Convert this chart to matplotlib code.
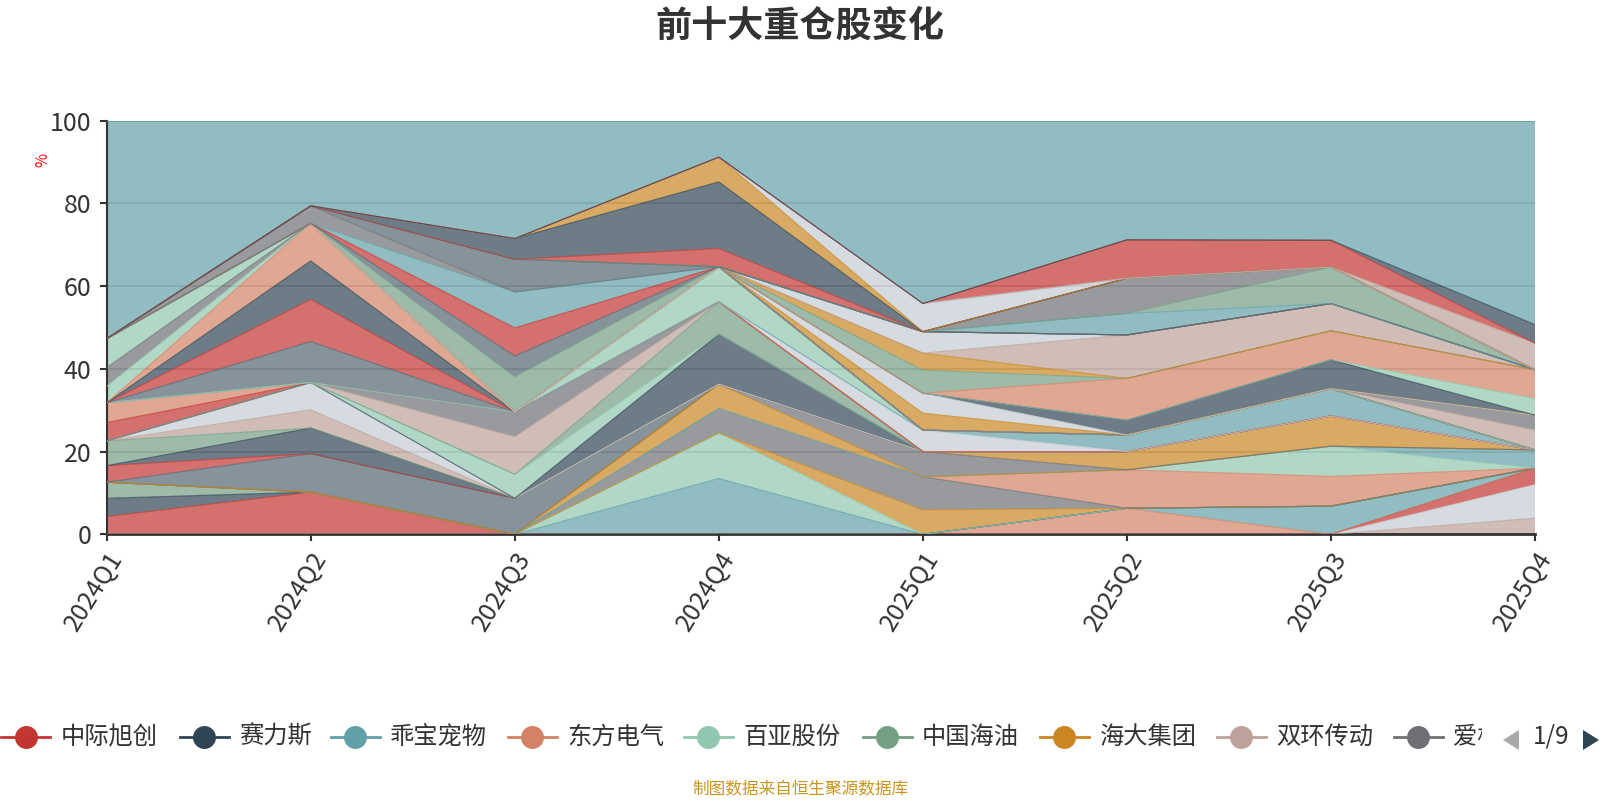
import matplotlib
matplotlib.use('Agg')
import matplotlib.pyplot as plt
import numpy as np
from matplotlib.lines import Line2D
from matplotlib.patches import Polygon
from matplotlib.transforms import Bbox, TransformedBbox

plt.rcParams['font.family'] = ['Noto Sans CJK SC', 'DejaVu Sans']

# 季度
quarters = ['2024Q1', '2024Q2', '2024Q3', '2024Q4',
            '2025Q1', '2025Q2', '2025Q3', '2025Q4']

# 图例第一页
legend_names = ['中际旭创', '赛力斯', '乖宝宠物', '东方电气', '百亚股份',
                '中国海油', '海大集团', '双环传动', '爱柯迪']

# echarts 默认配色
palette = {'red': '#c23531', 'dark': '#2f4554', 'teal': '#61a0a8',
           'orange': '#d48265', 'lgreen': '#91c7ae', 'green': '#749f83',
           'gold': '#ca8622', 'tan': '#bda29a', 'gray': '#6e7074',
           'gblue': '#546570', 'lgray': '#c4ccd3'}
legend_colors = ['red', 'dark', 'teal', 'orange', 'lgreen',
                 'green', 'gold', 'tan', 'gray']

# 各持仓占比(%), 按堆叠顺序从下到上
holdings = [
    [0, 0, 0, 0, 0, 0, 0, 3.9],
    [0, 0, 0, 0, 0, 0, 0, 8.1],
    [0, 0, 0, 0, 0, 0, 0, 4.0],
    [0, 0, 0, 0, 0, 6.3, 0, 0],
    [0, 0, 0, 0, 0, 0, 6.8, 0],
    [4.3, 10.2, 0, 0, 0, 0, 0, 0],
    [4.4, 0, 0, 0, 0, 0, 0, 0],
    [3.9, 0, 0, 0, 0, 0, 0, 0],
    [0, 0, 0, 13.5, 0, 0, 0, 0],
    [0, 0, 0, 11.0, 0, 0, 0, 0],
    [0, 0, 0, 0, 5.9, 0, 0, 0],
    [0, 0, 0, 5.9, 8.0, 0, 0, 0],
    [0, 0, 0, 0, 0, 9.3, 7.2, 0],
    [0, 0, 0, 0, 0, 0, 7.3, 0],
    [0, 0, 0, 0, 0, 0, 0, 4.4],
    [0, 0, 0, 5.9, 0, 0, 0, 0],
    [0, 0, 0, 0, 6.1, 0, 0, 0],
    [0, 0, 0, 0, 0, 4.4, 7.3, 0],
    [0, 9.3, 8.7, 0, 0, 0, 0, 0],
    [4.0, 0, 0, 0, 0, 0, 0, 0],
    [0, 6.2, 0, 0, 0, 0, 0, 0],
    [6.0, 0, 0, 0, 0, 0, 0, 0],
    [0, 4.4, 0, 0, 0, 0, 0, 0],
    [0, 6.6, 0, 0, 0, 0, 0, 0],
    [0, 0, 0, 12.1, 0, 0, 0, 0],
    [0, 0, 5.8, 0, 0, 0, 0, 0],
    [0, 0, 0, 7.8, 0, 0, 0, 0],
    [0, 0, 9.1, 0, 0, 0, 0, 0],
    [0, 0, 6.0, 0, 0, 0, 0, 0],
    [4.4, 0, 0, 0, 0, 0, 0, 0],
    [4.8, 0, 0, 0, 0, 0, 0, 0],
    [0, 0, 0, 0, 5.2, 0, 0, 0],
    [0, 0, 0, 0, 0, 4.0, 6.6, 0],
    [0, 0, 0, 8.5, 0, 0, 0, 0],
    [0, 9.9, 0, 0, 0, 0, 0, 0],
    [0, 10.2, 0, 0, 0, 0, 0, 0],
    [0, 9.3, 0, 0, 0, 0, 0, 0],
    [0, 9.1, 0, 0, 0, 0, 0, 0],
    [4.0, 0, 0, 0, 0, 0, 0, 0],
    [4.5, 0, 0, 0, 0, 0, 0, 0],
    [7.0, 0, 0, 0, 0, 0, 0, 0],
    [0, 0, 0, 0, 0, 0, 0, 4.8],
    [0, 0, 0, 0, 0, 0, 0, 3.6],
    [0, 0, 0, 0, 4.1, 0, 0, 0],
    [0, 0, 0, 0, 4.8, 0, 0, 0],
    [0, 0, 0, 0, 0, 3.6, 7.0, 0],
    [0, 0, 0, 0, 0, 0, 0, 4.0],
    [0, 0, 0, 0, 0, 10.1, 7.0, 7.0],
    [0, 0, 0, 0, 5.6, 0, 0, 0],
    [0, 0, 0, 0, 4.1, 0, 0, 0],
    [0, 0, 0, 0, 0, 10.5, 6.6, 0],
    [0, 0, 0, 0, 5.2, 0, 0, 0],
    [0, 0, 8.5, 0, 0, 0, 0, 0],
    [0, 0, 5.0, 0, 0, 0, 0, 0],
    [0, 0, 6.8, 0, 0, 0, 0, 0],
    [0, 0, 8.7, 0, 0, 0, 0, 0],
    [0, 4.2, 0, 0, 0, 0, 0, 0],
    [0, 0, 7.9, 0, 0, 0, 0, 0],
    [0, 0, 0, 0, 0, 5.2, 0, 0],
    [0, 0, 0, 0, 0, 0, 8.8, 0],
    [0, 0, 0, 0, 0, 8.5, 0, 0],
    [0, 0, 0, 4.4, 0, 0, 0, 0],
    [0, 0, 5.0, 16.1, 0, 0, 0, 0],
    [0, 0, 0, 6.0, 0, 0, 0, 0],
    [0, 0, 0, 0, 6.8, 0, 0, 0],
    [0, 0, 0, 0, 0, 0, 0, 6.4],
    [0, 0, 0, 0, 0, 9.3, 6.5, 0],
    [0, 0, 0, 0, 0, 0, 0, 4.5],
]
holding_colors = [
    'tan', 'lgray', 'red', 'orange', 'teal', 'red', 'dark', 'green',
    'teal', 'lgreen', 'gold', 'gray', 'orange', 'lgreen', 'teal', 'gold',
    'gray', 'gold', 'gblue', 'red', 'dark', 'green', 'tan', 'lgray',
    'dark', 'lgreen', 'green', 'tan', 'gray', 'red', 'orange', 'lgray',
    'teal', 'lgreen', 'gblue', 'red', 'dark', 'orange', 'lgreen', 'gray',
    'lgreen', 'tan', 'gray', 'gold', 'lgray', 'dark', 'lgreen', 'orange',
    'green', 'gold', 'tan', 'lgray', 'green', 'gblue', 'red', 'teal',
    'gray', 'gblue', 'teal', 'green', 'gray', 'red', 'dark', 'gold',
    'lgray', 'tan', 'red', 'dark',
]
# 其余部分(至100%)
other_share = [52.7, 20.6, 28.5, 8.8, 44.2, 28.8, 28.9, 49.3]

W, H = 1600, 800


def fx(px):
    return px / W


def fy(py):
    return 1 - py / H


fig = plt.figure(figsize=(16, 8), dpi=100)
ax = fig.add_axes([fx(106.7), fy(534.3), fx(1535) - fx(106.7), fy(120.7) - fy(534.3)])

x = np.arange(len(quarters))
rows = holdings + [other_share]
colors = [palette[c] for c in holding_colors] + [palette['teal']]

ax.stackplot(x, *rows, colors=colors, alpha=0.7, linewidth=0, zorder=2)
cum = np.cumsum(np.array(rows, dtype=float), axis=0)
for top, c in zip(cum, colors):
    ax.plot(x, top, color=c, lw=0.8, alpha=0.7, zorder=3)

ax.set_xlim(0, len(quarters) - 1)
ax.set_ylim(0, 100)
ax.set_yticks(range(0, 101, 20))
ax.set_xticks(x)
ax.set_xticklabels(quarters, rotation=58, ha='right', va='top',
                   rotation_mode='anchor')
ax.tick_params(axis='both', colors='#333333', length=5, width=1.5)
ax.tick_params(axis='y', pad=6, labelsize=18)
ax.tick_params(axis='x', pad=4, labelsize=18)
ax.yaxis.grid(True, color='#c8c8c8', lw=1.3, zorder=1)
ax.set_axisbelow(True)
for s in ['top', 'right']:
    ax.spines[s].set_visible(False)
ax.spines['left'].set_color('#333333')
ax.spines['left'].set_linewidth(1.5)
ax.spines['bottom'].set_color('#333333')
ax.spines['bottom'].set_linewidth(2)

fig.text(fx(43), fy(160), '%', color='red', fontsize=11, rotation=90,
         ha='center', va='center')

fig.text(0.5, fy(26), '前十大重仓股变化', fontsize=26, fontweight='bold',
         color='#333333', ha='center', va='center')

# 图例
legend_y = fy(737)
icon_centers = [25.5, 204, 355, 532, 708, 887, 1064, 1241, 1418]
clip = TransformedBbox(Bbox([[0, 0], [fx(1482), 1]]), fig.transFigure)
for name, key, cx in zip(legend_names, legend_colors, icon_centers):
    col = palette[key]
    fig.add_artist(Line2D([fx(cx - 24.5), fx(cx + 24.5)], [legend_y, legend_y],
                          transform=fig.transFigure, color=col, lw=2))
    fig.add_artist(Line2D([fx(cx)], [legend_y], transform=fig.transFigure,
                          marker='o', markersize=15.5, color=col, lw=0))
    t = fig.text(fx(cx + 35), legend_y, name, fontsize=17.5, color='#333333',
                 ha='left', va='center')
    t.set_clip_box(clip)
    t.set_clip_on(True)

fig.add_artist(Polygon([[fx(1519), fy(730)], [fx(1519), fy(750)], [fx(1503), fy(740)]],
                       closed=True, transform=fig.transFigure,
                       facecolor='#aaaaaa', edgecolor='none'))
fig.add_artist(Polygon([[fx(1583), fy(730)], [fx(1583), fy(750)], [fx(1599), fy(740)]],
                       closed=True, transform=fig.transFigure,
                       facecolor='#2f4554', edgecolor='none'))
fig.text(fx(1551), legend_y, '1/9', fontsize=17.5, color='#333333',
         ha='center', va='center')

fig.text(0.5, fy(790), '制图数据来自恒生聚源数据库', fontsize=12,
         color='#c8961e', ha='center', va='center')

fig.savefig('out.png', dpi=100)
